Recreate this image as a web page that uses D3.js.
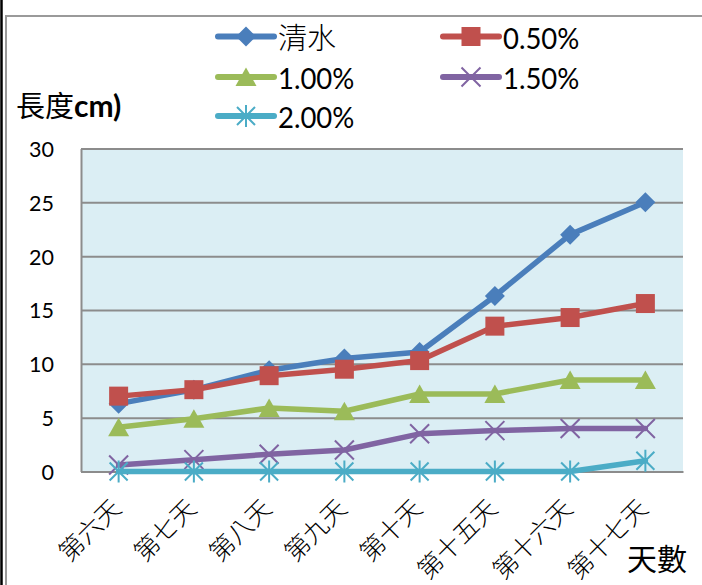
<!DOCTYPE html>
<html>
<head>
<meta charset="utf-8">
<script src="https://cdn.jsdelivr.net/npm/d3@7"></script>
<style>
  body { margin: 0; background: #fff; }
  svg { display: block; }
</style>
</head>
<body>
<svg id="chart" width="702" height="585"></svg>
<script>
// Plant length (cm) by day for each solution concentration
const categories = ["第六天", "第七天", "第八天", "第九天", "第十天", "第十五天", "第十六天", "第十七天"];
const seriesNames = ["清水", "0.50%", "1.00%", "1.50%", "2.00%"];
const water  = [6.3, 7.6, 9.4, 10.5, 11.1, 16.3, 22.0, 25.0];
const pct050 = [7.0, 7.6, 8.9, 9.5, 10.3, 13.5, 14.3, 15.6];
const pct100 = [4.1, 4.9, 5.9, 5.6, 7.2, 7.2, 8.5, 8.5];
const pct150 = [0.6, 1.1, 1.6, 2.0, 3.5, 3.8, 4.0, 4.0];
const pct200 = [0, 0, 0, 0, 0, 0, 0, 1.0];
const yTicks = [0, 5, 10, 15, 20, 25, 30];
const yLabel = "長度";
const yUnit = "cm)";
const xLabel = "天數";

const seriesValues = [water, pct050, pct100, pct150, pct200];
const colors = ["#4a7ebb", "#c0504d", "#9bbb59", "#8064a2", "#4bacc6"];
const markerTypes = ["diamond", "square", "triangle", "x", "asterisk"];

const svg = d3.select("#chart");
const plot = { left: 81, right: 683, top: 148.5, bottom: 471.5 };

const x = d3.scaleBand().domain(categories).range([plot.left, plot.right]);
const y = d3.scaleLinear().domain([0, 30]).range([plot.bottom, plot.top]);
const cx = c => x(c) + x.bandwidth() / 2;

// Outer frame
svg.append("line").attr("x1", 1.5).attr("x2", 1.5).attr("y1", 0).attr("y2", 585)
  .attr("stroke", "#000").attr("stroke-width", 2.5);
svg.append("path").attr("d", "M6,585 V16 H702")
  .attr("fill", "none").attr("stroke", "#9a9a9a").attr("stroke-width", 2);

// Plot background
svg.append("rect")
  .attr("x", plot.left).attr("y", plot.top)
  .attr("width", plot.right - plot.left).attr("height", plot.bottom - plot.top)
  .attr("fill", "#dbeef4");

// Horizontal gridlines
svg.append("g")
  .attr("transform", `translate(${plot.left},0)`)
  .call(d3.axisLeft(y).tickValues(yTicks).tickSize(-(plot.right - plot.left)).tickFormat(""))
  .call(g => g.select(".domain").remove())
  .call(g => g.selectAll(".tick line").attr("stroke", "#8c8c8c").attr("stroke-width", 2));

// Y axis line and labels
svg.append("g")
  .attr("transform", `translate(${plot.left},0)`)
  .call(d3.axisLeft(y).tickValues(yTicks).tickSize(0).tickPadding(27))
  .call(g => g.select(".domain").attr("stroke", "#8c8c8c").attr("stroke-width", 2))
  .call(g => g.selectAll(".tick text")
    .attr("font-family", "Lato, 'Open Sans', sans-serif")
    .attr("font-size", 21.5)
    .attr("fill", "#000")
    .attr("dy", "0.37em"));

// X axis baseline and rotated labels
svg.append("g")
  .attr("transform", `translate(0,${plot.bottom})`)
  .call(d3.axisBottom(x).tickSize(0).tickFormat(""))
  .call(g => g.select(".domain").attr("stroke", "#8c8c8c").attr("stroke-width", 2));

svg.append("g").selectAll("text")
  .data(categories)
  .join("text")
  .attr("transform", d => `translate(${cx(d) + 4},${510}) rotate(-45)`)
  .attr("text-anchor", "end")
  .attr("font-family", "'Noto Sans CJK TC', 'Noto Sans CJK SC', sans-serif")
  .attr("font-weight", 300)
  .attr("font-size", 25)
  .attr("fill", "#000")
  .text(d => d);

// Marker drawing
function drawMarker(sel, type, color) {
  if (type === "diamond") {
    sel.append("path").attr("d", "M0,-10L10,0L0,10L-10,0Z").attr("fill", color);
  } else if (type === "square") {
    sel.append("rect").attr("x", -9.5).attr("y", -9.5).attr("width", 19).attr("height", 19).attr("fill", color);
  } else if (type === "triangle") {
    sel.append("path").attr("d", "M0,-9.5L10.5,9L-10.5,9Z").attr("fill", color);
  } else if (type === "x") {
    sel.append("path").attr("d", "M-9.5,-9.5L9.5,9.5M9.5,-9.5L-9.5,9.5")
      .attr("stroke", color).attr("stroke-width", 2).attr("fill", "none");
  } else if (type === "asterisk") {
    sel.append("path").attr("d", "M-9,-9L9,9M9,-9L-9,9M0,-11V11")
      .attr("stroke", color).attr("stroke-width", 2).attr("fill", "none");
  }
}

// Series lines and markers
const line = d3.line().x((d, i) => cx(categories[i])).y(d => y(d));
seriesValues.forEach((vals, s) => {
  const g = svg.append("g");
  g.append("path")
    .attr("d", line(vals))
    .attr("fill", "none")
    .attr("stroke", colors[s])
    .attr("stroke-width", 5.5)
    .attr("stroke-linejoin", "round")
    .attr("stroke-linecap", "round");
  vals.forEach((v, i) => {
    const m = g.append("g").attr("transform", `translate(${cx(categories[i])},${y(v)})`);
    drawMarker(m, markerTypes[s], colors[s]);
  });
});

// Legend (two columns)
const legendCols = [218, 443];
const legendRows = [36.5, 77, 116];
seriesNames.forEach((name, s) => {
  const col = s % 2, row = Math.floor(s / 2);
  const lx = legendCols[col], ly = legendRows[row];
  const g = svg.append("g").attr("transform", `translate(${lx},${ly})`);
  g.append("line").attr("x1", 0).attr("x2", 56).attr("y1", 0).attr("y2", 0)
    .attr("stroke", colors[s]).attr("stroke-width", 6).attr("stroke-linecap", "round");
  drawMarker(g.append("g").attr("transform", "translate(28,0)"), markerTypes[s], colors[s]);
  const isCJK = /[\u4e00-\u9fff]/.test(name);
  g.append("text")
    .attr("x", 60).attr("y", isCJK ? 12 : 11.5)
    .attr("transform", isCJK ? null : "scale(1,1.06)")
    .attr("font-family", isCJK ? "'Noto Sans CJK TC', sans-serif" : "Lato, 'Open Sans', sans-serif")
    .attr("font-weight", isCJK ? 300 : 400)
    .attr("font-size", isCJK ? 29 : 27.5)
    .attr("fill", "#000")
    .text(name);
});

// Axis titles
const yt = svg.append("text")
  .attr("x", 16).attr("y", 117)
  .attr("fill", "#000");
yt.append("tspan")
  .attr("font-family", "'Noto Sans CJK TC', sans-serif")
  .attr("font-size", 29)
  .text(yLabel);
yt.append("tspan")
  .attr("font-family", "Lato, 'Open Sans', sans-serif")
  .attr("font-weight", 700)
  .attr("font-size", 30)
  .text(yUnit);

svg.append("text")
  .attr("x", 627).attr("y", 570)
  .attr("font-family", "'Noto Sans CJK TC', sans-serif")
  .attr("font-size", 30)
  .attr("fill", "#000")
  .text(xLabel);
</script>
</body>
</html>
